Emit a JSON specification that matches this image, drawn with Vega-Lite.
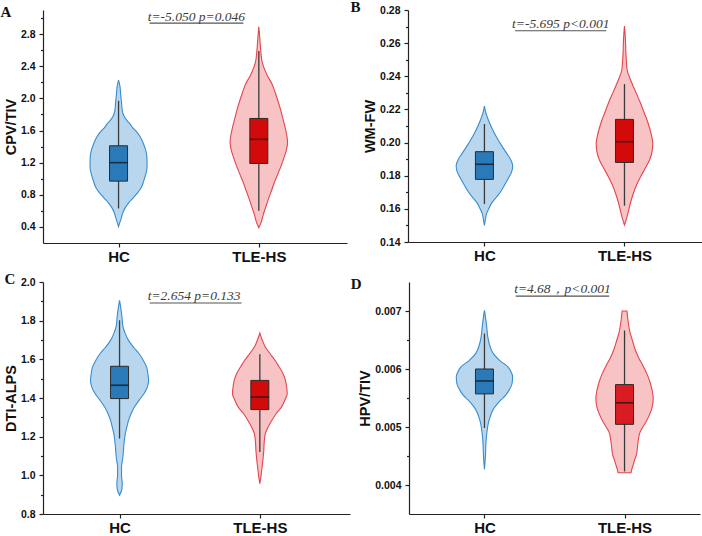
{
  "$schema": "https://vega.github.io/schema/vega-lite/v6.json",
  "padding": {"left": 0, "top": 0, "right": 0, "bottom": 0},
  "config": {
    "view": {"stroke": null},
    "axis": {
      "grid": false,
      "domainColor": "#222222",
      "domainWidth": 1.2,
      "tickColor": "#222222",
      "tickWidth": 1.2,
      "tickSize": 4,
      "labelFont": "Liberation Sans",
      "labelFontWeight": "bold",
      "labelFontSize": 10.5,
      "labelColor": "#111111",
      "labelPadding": 4,
      "labelOverlap": false,
      "titleFont": "Liberation Sans",
      "titleFontWeight": "bold",
      "titleFontSize": 14.5,
      "titleColor": "#111111",
      "titlePadding": 2
    },
    "title": {
      "font": "Liberation Serif",
      "fontWeight": "bold",
      "fontSize": 15,
      "color": "#111111",
      "anchor": "start",
      "frame": "bounds",
      "offset": -10,
      "dx": -3
    }
  },
  "datasets": {
    "noteA": [{"label": "t=-5.050 p=0.046"}],
    "noteB": [{"label": "t=-5.695 p<0.001"}],
    "noteC": [{"label": "t=2.654 p=0.133"}],
    "noteD": [{"label": "t=4.68，p<0.001"}],
    "violinA": [
      {"group": "HC", "v": 2.227, "lo": 1, "hi": 1},
      {"group": "HC", "v": 2.15, "lo": 0.990, "hi": 1.010},
      {"group": "HC", "v": 2.05, "lo": 0.985, "hi": 1.015},
      {"group": "HC", "v": 1.95, "lo": 0.979, "hi": 1.021},
      {"group": "HC", "v": 1.85, "lo": 0.974, "hi": 1.026},
      {"group": "HC", "v": 1.78, "lo": 0.962, "hi": 1.038},
      {"group": "HC", "v": 1.72, "lo": 0.938, "hi": 1.062},
      {"group": "HC", "v": 1.68, "lo": 0.917, "hi": 1.083},
      {"group": "HC", "v": 1.637, "lo": 0.900, "hi": 1.100},
      {"group": "HC", "v": 1.58, "lo": 0.869, "hi": 1.131},
      {"group": "HC", "v": 1.52, "lo": 0.845, "hi": 1.155},
      {"group": "HC", "v": 1.43, "lo": 0.821, "hi": 1.179},
      {"group": "HC", "v": 1.33, "lo": 0.803, "hi": 1.197},
      {"group": "HC", "v": 1.23, "lo": 0.797, "hi": 1.203},
      {"group": "HC", "v": 1.14, "lo": 0.797, "hi": 1.203},
      {"group": "HC", "v": 1.05, "lo": 0.807, "hi": 1.193},
      {"group": "HC", "v": 0.97, "lo": 0.821, "hi": 1.179},
      {"group": "HC", "v": 0.89, "lo": 0.838, "hi": 1.162},
      {"group": "HC", "v": 0.82, "lo": 0.866, "hi": 1.134},
      {"group": "HC", "v": 0.76, "lo": 0.897, "hi": 1.103},
      {"group": "HC", "v": 0.70, "lo": 0.928, "hi": 1.072},
      {"group": "HC", "v": 0.64, "lo": 0.952, "hi": 1.048},
      {"group": "HC", "v": 0.58, "lo": 0.969, "hi": 1.031},
      {"group": "HC", "v": 0.52, "lo": 0.979, "hi": 1.021},
      {"group": "HC", "v": 0.46, "lo": 0.990, "hi": 1.010},
      {"group": "HC", "v": 0.404, "lo": 1, "hi": 1},
      {"group": "TLE-HS", "v": 2.89, "lo": 2, "hi": 2},
      {"group": "TLE-HS", "v": 2.75, "lo": 1.993, "hi": 2.007},
      {"group": "TLE-HS", "v": 2.59, "lo": 1.986, "hi": 2.014},
      {"group": "TLE-HS", "v": 2.45, "lo": 1.976, "hi": 2.024},
      {"group": "TLE-HS", "v": 2.38, "lo": 1.963, "hi": 2.037},
      {"group": "TLE-HS", "v": 2.28, "lo": 1.938, "hi": 2.062},
      {"group": "TLE-HS", "v": 2.18, "lo": 1.906, "hi": 2.094},
      {"group": "TLE-HS", "v": 2.07, "lo": 1.883, "hi": 2.117},
      {"group": "TLE-HS", "v": 1.97, "lo": 1.864, "hi": 2.136},
      {"group": "TLE-HS", "v": 1.86, "lo": 1.845, "hi": 2.155},
      {"group": "TLE-HS", "v": 1.76, "lo": 1.830, "hi": 2.170},
      {"group": "TLE-HS", "v": 1.62, "lo": 1.810, "hi": 2.190},
      {"group": "TLE-HS", "v": 1.51, "lo": 1.798, "hi": 2.202},
      {"group": "TLE-HS", "v": 1.45, "lo": 1.795, "hi": 2.205},
      {"group": "TLE-HS", "v": 1.36, "lo": 1.803, "hi": 2.197},
      {"group": "TLE-HS", "v": 1.26, "lo": 1.821, "hi": 2.179},
      {"group": "TLE-HS", "v": 1.16, "lo": 1.841, "hi": 2.159},
      {"group": "TLE-HS", "v": 1.06, "lo": 1.864, "hi": 2.136},
      {"group": "TLE-HS", "v": 0.95, "lo": 1.890, "hi": 2.110},
      {"group": "TLE-HS", "v": 0.85, "lo": 1.910, "hi": 2.090},
      {"group": "TLE-HS", "v": 0.75, "lo": 1.931, "hi": 2.069},
      {"group": "TLE-HS", "v": 0.64, "lo": 1.952, "hi": 2.048},
      {"group": "TLE-HS", "v": 0.55, "lo": 1.969, "hi": 2.031},
      {"group": "TLE-HS", "v": 0.47, "lo": 1.981, "hi": 2.019},
      {"group": "TLE-HS", "v": 0.39, "lo": 2, "hi": 2}
    ],
    "boxA": [
      {"group": "HC", "g": 1, "lower": 0.63, "q1": 0.97, "median": 1.20, "q3": 1.41, "upper": 1.97},
      {"group": "TLE-HS", "g": 2, "lower": 0.60, "q1": 1.19, "median": 1.49, "q3": 1.75, "upper": 2.59}
    ],
    "violinB": [
      {"group": "HC", "v": 0.222, "lo": 1, "hi": 1},
      {"group": "HC", "v": 0.218, "lo": 0.990, "hi": 1.010},
      {"group": "HC", "v": 0.2136, "lo": 0.972, "hi": 1.028},
      {"group": "HC", "v": 0.209, "lo": 0.948, "hi": 1.052},
      {"group": "HC", "v": 0.2035, "lo": 0.915, "hi": 1.085},
      {"group": "HC", "v": 0.198, "lo": 0.876, "hi": 1.124},
      {"group": "HC", "v": 0.1935, "lo": 0.841, "hi": 1.159},
      {"group": "HC", "v": 0.190, "lo": 0.814, "hi": 1.186},
      {"group": "HC", "v": 0.186, "lo": 0.798, "hi": 1.202},
      {"group": "HC", "v": 0.182, "lo": 0.807, "hi": 1.193},
      {"group": "HC", "v": 0.1794, "lo": 0.823, "hi": 1.177},
      {"group": "HC", "v": 0.175, "lo": 0.852, "hi": 1.148},
      {"group": "HC", "v": 0.1694, "lo": 0.892, "hi": 1.108},
      {"group": "HC", "v": 0.1633, "lo": 0.950, "hi": 1.050},
      {"group": "HC", "v": 0.160, "lo": 0.969, "hi": 1.031},
      {"group": "HC", "v": 0.1573, "lo": 0.984, "hi": 1.016},
      {"group": "HC", "v": 0.154, "lo": 0.992, "hi": 1.008},
      {"group": "HC", "v": 0.150, "lo": 1, "hi": 1},
      {"group": "TLE-HS", "v": 0.2703, "lo": 2, "hi": 2},
      {"group": "TLE-HS", "v": 0.2619, "lo": 1.993, "hi": 2.007},
      {"group": "TLE-HS", "v": 0.2539, "lo": 1.990, "hi": 2.010},
      {"group": "TLE-HS", "v": 0.2486, "lo": 1.986, "hi": 2.014},
      {"group": "TLE-HS", "v": 0.2438, "lo": 1.981, "hi": 2.019},
      {"group": "TLE-HS", "v": 0.239, "lo": 1.962, "hi": 2.038},
      {"group": "TLE-HS", "v": 0.2337, "lo": 1.936, "hi": 2.064},
      {"group": "TLE-HS", "v": 0.2287, "lo": 1.910, "hi": 2.090},
      {"group": "TLE-HS", "v": 0.2237, "lo": 1.885, "hi": 2.115},
      {"group": "TLE-HS", "v": 0.2186, "lo": 1.862, "hi": 2.138},
      {"group": "TLE-HS", "v": 0.2136, "lo": 1.839, "hi": 2.161},
      {"group": "TLE-HS", "v": 0.2088, "lo": 1.821, "hi": 2.179},
      {"group": "TLE-HS", "v": 0.2035, "lo": 1.805, "hi": 2.195},
      {"group": "TLE-HS", "v": 0.1996, "lo": 1.798, "hi": 2.202},
      {"group": "TLE-HS", "v": 0.1945, "lo": 1.803, "hi": 2.197},
      {"group": "TLE-HS", "v": 0.1895, "lo": 1.821, "hi": 2.179},
      {"group": "TLE-HS", "v": 0.1845, "lo": 1.852, "hi": 2.148},
      {"group": "TLE-HS", "v": 0.1794, "lo": 1.885, "hi": 2.115},
      {"group": "TLE-HS", "v": 0.1744, "lo": 1.914, "hi": 2.086},
      {"group": "TLE-HS", "v": 0.1694, "lo": 1.936, "hi": 2.064},
      {"group": "TLE-HS", "v": 0.1643, "lo": 1.955, "hi": 2.045},
      {"group": "TLE-HS", "v": 0.1593, "lo": 1.970, "hi": 2.030},
      {"group": "TLE-HS", "v": 0.1533, "lo": 1.988, "hi": 2.012},
      {"group": "TLE-HS", "v": 0.1502, "lo": 2, "hi": 2}
    ],
    "boxB": [
      {"group": "HC", "g": 1, "lower": 0.1629, "q1": 0.1778, "median": 0.1869, "q3": 0.1945, "upper": 0.2112},
      {"group": "TLE-HS", "g": 2, "lower": 0.1619, "q1": 0.188, "median": 0.2005, "q3": 0.214, "upper": 0.2353}
    ],
    "violinC": [
      {"group": "HC", "v": 1.905, "lo": 1, "hi": 1},
      {"group": "HC", "v": 1.86, "lo": 0.990, "hi": 1.010},
      {"group": "HC", "v": 1.82, "lo": 0.983, "hi": 1.017},
      {"group": "HC", "v": 1.77, "lo": 0.976, "hi": 1.024},
      {"group": "HC", "v": 1.733, "lo": 0.959, "hi": 1.041},
      {"group": "HC", "v": 1.698, "lo": 0.936, "hi": 1.064},
      {"group": "HC", "v": 1.66, "lo": 0.897, "hi": 1.103},
      {"group": "HC", "v": 1.629, "lo": 0.860, "hi": 1.140},
      {"group": "HC", "v": 1.595, "lo": 0.831, "hi": 1.169},
      {"group": "HC", "v": 1.56, "lo": 0.807, "hi": 1.193},
      {"group": "HC", "v": 1.52, "lo": 0.797, "hi": 1.203},
      {"group": "HC", "v": 1.491, "lo": 0.793, "hi": 1.207},
      {"group": "HC", "v": 1.455, "lo": 0.803, "hi": 1.197},
      {"group": "HC", "v": 1.422, "lo": 0.826, "hi": 1.174},
      {"group": "HC", "v": 1.39, "lo": 0.859, "hi": 1.141},
      {"group": "HC", "v": 1.353, "lo": 0.894, "hi": 1.106},
      {"group": "HC", "v": 1.32, "lo": 0.917, "hi": 1.083},
      {"group": "HC", "v": 1.284, "lo": 0.936, "hi": 1.064},
      {"group": "HC", "v": 1.25, "lo": 0.948, "hi": 1.052},
      {"group": "HC", "v": 1.216, "lo": 0.959, "hi": 1.041},
      {"group": "HC", "v": 1.16, "lo": 0.969, "hi": 1.031},
      {"group": "HC", "v": 1.112, "lo": 0.974, "hi": 1.026},
      {"group": "HC", "v": 1.08, "lo": 0.979, "hi": 1.021},
      {"group": "HC", "v": 1.043, "lo": 0.986, "hi": 1.014},
      {"group": "HC", "v": 1.00, "lo": 0.986, "hi": 1.014},
      {"group": "HC", "v": 0.96, "lo": 0.981, "hi": 1.019},
      {"group": "HC", "v": 0.93, "lo": 0.983, "hi": 1.017},
      {"group": "HC", "v": 0.897, "lo": 1, "hi": 1},
      {"group": "TLE-HS", "v": 1.736, "lo": 2, "hi": 2},
      {"group": "TLE-HS", "v": 1.70, "lo": 1.983, "hi": 2.017},
      {"group": "TLE-HS", "v": 1.664, "lo": 1.961, "hi": 2.039},
      {"group": "TLE-HS", "v": 1.63, "lo": 1.928, "hi": 2.072},
      {"group": "TLE-HS", "v": 1.595, "lo": 1.892, "hi": 2.108},
      {"group": "TLE-HS", "v": 1.56, "lo": 1.862, "hi": 2.138},
      {"group": "TLE-HS", "v": 1.526, "lo": 1.834, "hi": 2.166},
      {"group": "TLE-HS", "v": 1.49, "lo": 1.817, "hi": 2.183},
      {"group": "TLE-HS", "v": 1.457, "lo": 1.809, "hi": 2.191},
      {"group": "TLE-HS", "v": 1.422, "lo": 1.805, "hi": 2.195},
      {"group": "TLE-HS", "v": 1.39, "lo": 1.821, "hi": 2.179},
      {"group": "TLE-HS", "v": 1.353, "lo": 1.846, "hi": 2.154},
      {"group": "TLE-HS", "v": 1.32, "lo": 1.883, "hi": 2.117},
      {"group": "TLE-HS", "v": 1.284, "lo": 1.915, "hi": 2.085},
      {"group": "TLE-HS", "v": 1.25, "lo": 1.941, "hi": 2.059},
      {"group": "TLE-HS", "v": 1.216, "lo": 1.961, "hi": 2.039},
      {"group": "TLE-HS", "v": 1.17, "lo": 1.969, "hi": 2.031},
      {"group": "TLE-HS", "v": 1.129, "lo": 1.972, "hi": 2.028},
      {"group": "TLE-HS", "v": 1.08, "lo": 1.978, "hi": 2.022},
      {"group": "TLE-HS", "v": 1.043, "lo": 1.984, "hi": 2.016},
      {"group": "TLE-HS", "v": 1.00, "lo": 1.991, "hi": 2.009},
      {"group": "TLE-HS", "v": 0.957, "lo": 2, "hi": 2}
    ],
    "boxC": [
      {"group": "HC", "g": 1, "lower": 1.19, "q1": 1.397, "median": 1.466, "q3": 1.564, "upper": 1.802},
      {"group": "TLE-HS", "g": 2, "lower": 1.121, "q1": 1.340, "median": 1.405, "q3": 1.491, "upper": 1.626}
    ],
    "violinD": [
      {"group": "HC", "v": 0.00701, "lo": 1, "hi": 1},
      {"group": "HC", "v": 0.0069, "lo": 0.993, "hi": 1.007},
      {"group": "HC", "v": 0.00673, "lo": 0.984, "hi": 1.016},
      {"group": "HC", "v": 0.00655, "lo": 0.976, "hi": 1.024},
      {"group": "HC", "v": 0.00644, "lo": 0.966, "hi": 1.034},
      {"group": "HC", "v": 0.00627, "lo": 0.938, "hi": 1.062},
      {"group": "HC", "v": 0.00615, "lo": 0.892, "hi": 1.108},
      {"group": "HC", "v": 0.00604, "lo": 0.834, "hi": 1.166},
      {"group": "HC", "v": 0.00595, "lo": 0.810, "hi": 1.190},
      {"group": "HC", "v": 0.00587, "lo": 0.799, "hi": 1.201},
      {"group": "HC", "v": 0.00575, "lo": 0.803, "hi": 1.197},
      {"group": "HC", "v": 0.00564, "lo": 0.823, "hi": 1.177},
      {"group": "HC", "v": 0.00555, "lo": 0.848, "hi": 1.152},
      {"group": "HC", "v": 0.00547, "lo": 0.881, "hi": 1.119},
      {"group": "HC", "v": 0.00538, "lo": 0.914, "hi": 1.086},
      {"group": "HC", "v": 0.0053, "lo": 0.938, "hi": 1.062},
      {"group": "HC", "v": 0.00518, "lo": 0.959, "hi": 1.041},
      {"group": "HC", "v": 0.00507, "lo": 0.972, "hi": 1.028},
      {"group": "HC", "v": 0.0049, "lo": 0.983, "hi": 1.017},
      {"group": "HC", "v": 0.00478, "lo": 0.988, "hi": 1.012},
      {"group": "HC", "v": 0.0045, "lo": 0.993, "hi": 1.007},
      {"group": "HC", "v": 0.00427, "lo": 1, "hi": 1},
      {"group": "TLE-HS", "v": 0.0070, "lo": 1.983, "hi": 2.017},
      {"group": "TLE-HS", "v": 0.00685, "lo": 1.976, "hi": 2.024},
      {"group": "TLE-HS", "v": 0.00663, "lo": 1.961, "hi": 2.039},
      {"group": "TLE-HS", "v": 0.0065, "lo": 1.945, "hi": 2.055},
      {"group": "TLE-HS", "v": 0.00635, "lo": 1.926, "hi": 2.074},
      {"group": "TLE-HS", "v": 0.0062, "lo": 1.900, "hi": 2.100},
      {"group": "TLE-HS", "v": 0.00606, "lo": 1.869, "hi": 2.131},
      {"group": "TLE-HS", "v": 0.00592, "lo": 1.841, "hi": 2.159},
      {"group": "TLE-HS", "v": 0.00578, "lo": 1.819, "hi": 2.181},
      {"group": "TLE-HS", "v": 0.00563, "lo": 1.803, "hi": 2.197},
      {"group": "TLE-HS", "v": 0.00549, "lo": 1.795, "hi": 2.205},
      {"group": "TLE-HS", "v": 0.00532, "lo": 1.805, "hi": 2.195},
      {"group": "TLE-HS", "v": 0.0052, "lo": 1.824, "hi": 2.176},
      {"group": "TLE-HS", "v": 0.00509, "lo": 1.846, "hi": 2.154},
      {"group": "TLE-HS", "v": 0.005, "lo": 1.869, "hi": 2.131},
      {"group": "TLE-HS", "v": 0.00492, "lo": 1.888, "hi": 2.112},
      {"group": "TLE-HS", "v": 0.00475, "lo": 1.903, "hi": 2.097},
      {"group": "TLE-HS", "v": 0.0046, "lo": 1.910, "hi": 2.090},
      {"group": "TLE-HS", "v": 0.00452, "lo": 1.915, "hi": 2.085},
      {"group": "TLE-HS", "v": 0.00443, "lo": 1.928, "hi": 2.072},
      {"group": "TLE-HS", "v": 0.00435, "lo": 1.938, "hi": 2.062},
      {"group": "TLE-HS", "v": 0.00427, "lo": 1.948, "hi": 2.052},
      {"group": "TLE-HS", "v": 0.00421, "lo": 1.954, "hi": 2.046}
    ],
    "boxD": [
      {"group": "HC", "g": 1, "lower": 0.004983, "q1": 0.005571, "median": 0.005794, "q3": 0.0060, "upper": 0.006611},
      {"group": "TLE-HS", "g": 2, "lower": 0.004234, "q1": 0.005046, "median": 0.005417, "q3": 0.005731, "upper": 0.006663}
    ]
  },
  "vconcat": [
    {
      "spacing": 3,
      "hconcat": [
        {
          "title": {"text": "A"},
          "width": 304,
          "height": 233,
          "layer": [
            {
              "data": {"name": "violinA"},
              "mark": {"type": "area", "orient": "horizontal", "interpolate": "monotone", "strokeWidth": 1.1},
              "encoding": {
                "y": {"field": "v", "type": "quantitative", "scale": {"domain": [0.2, 3.1], "nice": false, "zero": false},
                  "axis": {"title": "CPV/TIV", "format": ".1f", "labelOverlap": false, "tickCount": 100,
                    "values": [0.4, 0.6, 0.8, 1.0, 1.2, 1.4, 1.6, 1.8, 2.0, 2.2, 2.4, 2.6, 2.8, 3.0],
                    "labelExpr": "abs(datum.value / 0.4 - round(datum.value / 0.4)) < 0.01 ? datum.label : ''",
                    "tickSize": {"condition": {"test": "abs(datum.value / 0.4 - round(datum.value / 0.4)) > 0.01", "value": 2.5}, "value": 4}}},
                "x": {"field": "lo", "type": "quantitative", "scale": {"domain": [0.497, 2.593], "nice": false, "zero": false},
                  "axis": {"title": null, "values": [1, 2], "labelExpr": "datum.value == 1 ? 'HC' : 'TLE-HS'", "labelFontSize": 15, "labelPadding": 2, "labelFlush": false}},
                "x2": {"field": "hi"},
                "fill": {"field": "group", "type": "nominal", "scale": {"domain": ["HC", "TLE-HS"], "range": ["#b8d7ef", "#f8c3c5"]}, "legend": null},
                "stroke": {"field": "group", "type": "nominal", "scale": {"domain": ["HC", "TLE-HS"], "range": ["#3a8ccb", "#e2464d"]}, "legend": null}
              }
            },
            {
              "data": {"name": "boxA"},
              "mark": {"type": "rule", "color": "#3a3a3a", "strokeWidth": 1.3},
              "encoding": {"x": {"field": "g", "type": "quantitative"}, "y": {"field": "lower", "type": "quantitative"}, "y2": {"field": "upper"}}
            },
            {
              "data": {"name": "boxA"},
              "mark": {"type": "bar", "width": 18, "stroke": "#2b2b2b", "strokeWidth": 1},
              "encoding": {"x": {"field": "g", "type": "quantitative"}, "y": {"field": "q1", "type": "quantitative"}, "y2": {"field": "q3"},
                "fill": {"field": "group", "type": "nominal", "scale": {"domain": ["HC", "TLE-HS"], "range": ["#2a7ab9", "#d20a0a"]}, "legend": null}}
            },
            {
              "data": {"name": "boxA"},
              "mark": {"type": "tick", "orient": "horizontal", "size": 18, "thickness": 1.6, "color": "#111111"},
              "encoding": {"x": {"field": "g", "type": "quantitative"}, "y": {"field": "median", "type": "quantitative"}}
            },
            {
              "data": {"name": "noteA"},
              "mark": {"type": "text", "font": "Liberation Serif", "fontStyle": "italic", "fontSize": 13.5, "color": "#3c3c3c", "align": "center", "baseline": "alphabetic"},
              "encoding": {"x": {"datum": 1.555, "type": "quantitative"}, "y": {"datum": 2.966, "type": "quantitative"}, "text": {"field": "label"}}
            },
            {
              "data": {"name": "noteA"},
              "mark": {"type": "rule", "color": "#555555", "strokeWidth": 1.1},
              "encoding": {"x": {"datum": 1.221, "type": "quantitative"}, "x2": {"datum": 1.89}, "y": {"datum": 2.937, "type": "quantitative"}}
            }
          ],
          "resolve": {"scale": {"fill": "independent"}}
        },
        {
          "title": {"text": "B", "dx": -12},
          "width": 295,
          "height": 232,
          "layer": [
            {
              "data": {"name": "violinB"},
              "mark": {"type": "area", "orient": "horizontal", "interpolate": "monotone", "strokeWidth": 1.1},
              "encoding": {
                "y": {"field": "v", "type": "quantitative", "scale": {"domain": [0.14, 0.28], "nice": false, "zero": false},
                  "axis": {"title": "WM-FW", "format": ".2f", "labelOverlap": false, "tickCount": 100,
                    "values": [0.14, 0.15, 0.16, 0.17, 0.18, 0.19, 0.20, 0.21, 0.22, 0.23, 0.24, 0.25, 0.26, 0.27, 0.28],
                    "labelExpr": "abs(datum.value / 0.02 - round(datum.value / 0.02)) < 0.01 ? datum.label : ''",
                    "tickSize": {"condition": {"test": "abs(datum.value / 0.02 - round(datum.value / 0.02)) > 0.01", "value": 2.5}, "value": 4}}},
                "x": {"field": "lo", "type": "quantitative", "scale": {"domain": [0.49, 2.525], "nice": false, "zero": false},
                  "axis": {"title": null, "values": [1, 2], "labelExpr": "datum.value == 1 ? 'HC' : 'TLE-HS'", "labelFontSize": 15, "labelPadding": 2, "labelFlush": false}},
                "x2": {"field": "hi"},
                "fill": {"field": "group", "type": "nominal", "scale": {"domain": ["HC", "TLE-HS"], "range": ["#b8d7ef", "#f8c3c5"]}, "legend": null},
                "stroke": {"field": "group", "type": "nominal", "scale": {"domain": ["HC", "TLE-HS"], "range": ["#3a8ccb", "#e2464d"]}, "legend": null}
              }
            },
            {
              "data": {"name": "boxB"},
              "mark": {"type": "rule", "color": "#3a3a3a", "strokeWidth": 1.3},
              "encoding": {"x": {"field": "g", "type": "quantitative"}, "y": {"field": "lower", "type": "quantitative"}, "y2": {"field": "upper"}}
            },
            {
              "data": {"name": "boxB"},
              "mark": {"type": "bar", "width": 18, "stroke": "#2b2b2b", "strokeWidth": 1},
              "encoding": {"x": {"field": "g", "type": "quantitative"}, "y": {"field": "q1", "type": "quantitative"}, "y2": {"field": "q3"},
                "fill": {"field": "group", "type": "nominal", "scale": {"domain": ["HC", "TLE-HS"], "range": ["#2a7ab9", "#d20a0a"]}, "legend": null}}
            },
            {
              "data": {"name": "boxB"},
              "mark": {"type": "tick", "orient": "horizontal", "size": 18, "thickness": 1.6, "color": "#111111"},
              "encoding": {"x": {"field": "g", "type": "quantitative"}, "y": {"field": "median", "type": "quantitative"}}
            },
            {
              "data": {"name": "noteB"},
              "mark": {"type": "text", "font": "Liberation Serif", "fontStyle": "italic", "fontSize": 13.5, "color": "#3c3c3c", "align": "center", "baseline": "alphabetic"},
              "encoding": {"x": {"datum": 1.545, "type": "quantitative"}, "y": {"datum": 0.2693, "type": "quantitative"}, "text": {"field": "label"}}
            },
            {
              "data": {"name": "noteB"},
              "mark": {"type": "rule", "color": "#555555", "strokeWidth": 1.1},
              "encoding": {"x": {"datum": 1.219, "type": "quantitative"}, "x2": {"datum": 1.87}, "y": {"datum": 0.2675, "type": "quantitative"}}
            }
          ],
          "resolve": {"scale": {"fill": "independent"}}
        }
      ]
    },
    {
      "spacing": 0,
      "hconcat": [
        {
          "title": {"text": "C", "dx": 1},
          "width": 307,
          "height": 232,
          "layer": [
            {
              "data": {"name": "violinC"},
              "mark": {"type": "area", "orient": "horizontal", "interpolate": "monotone", "strokeWidth": 1.1},
              "encoding": {
                "y": {"field": "v", "type": "quantitative", "scale": {"domain": [0.8, 2.0], "nice": false, "zero": false},
                  "axis": {"title": "DTI-ALPS", "format": ".1f", "labelOverlap": false, "tickCount": 100,
                    "values": [0.8, 0.9, 1.0, 1.1, 1.2, 1.3, 1.4, 1.5, 1.6, 1.7, 1.8, 1.9, 2.0],
                    "labelExpr": "abs(datum.value / 0.2 - round(datum.value / 0.2)) < 0.01 ? datum.label : ''",
                    "tickSize": {"condition": {"test": "abs(datum.value / 0.2 - round(datum.value / 0.2)) > 0.01", "value": 2.5}, "value": 4}}},
                "x": {"field": "lo", "type": "quantitative", "scale": {"domain": [0.49, 2.607], "nice": false, "zero": false},
                  "axis": {"title": null, "values": [1, 2], "labelExpr": "datum.value == 1 ? 'HC' : 'TLE-HS'", "labelFontSize": 15, "labelPadding": 2, "labelFlush": false}},
                "x2": {"field": "hi"},
                "fill": {"field": "group", "type": "nominal", "scale": {"domain": ["HC", "TLE-HS"], "range": ["#b8d7ef", "#f8c3c5"]}, "legend": null},
                "stroke": {"field": "group", "type": "nominal", "scale": {"domain": ["HC", "TLE-HS"], "range": ["#3a8ccb", "#e2464d"]}, "legend": null}
              }
            },
            {
              "data": {"name": "boxC"},
              "mark": {"type": "rule", "color": "#3a3a3a", "strokeWidth": 1.3},
              "encoding": {"x": {"field": "g", "type": "quantitative"}, "y": {"field": "lower", "type": "quantitative"}, "y2": {"field": "upper"}}
            },
            {
              "data": {"name": "boxC"},
              "mark": {"type": "bar", "width": 18, "stroke": "#2b2b2b", "strokeWidth": 1},
              "encoding": {"x": {"field": "g", "type": "quantitative"}, "y": {"field": "q1", "type": "quantitative"}, "y2": {"field": "q3"},
                "fill": {"field": "group", "type": "nominal", "scale": {"domain": ["HC", "TLE-HS"], "range": ["#2a7ab9", "#d20a0a"]}, "legend": null}}
            },
            {
              "data": {"name": "boxC"},
              "mark": {"type": "tick", "orient": "horizontal", "size": 18, "thickness": 1.6, "color": "#111111"},
              "encoding": {"x": {"field": "g", "type": "quantitative"}, "y": {"field": "median", "type": "quantitative"}}
            },
            {
              "data": {"name": "noteC"},
              "mark": {"type": "text", "font": "Liberation Serif", "fontStyle": "italic", "fontSize": 13.5, "color": "#3c3c3c", "align": "center", "baseline": "alphabetic"},
              "encoding": {"x": {"datum": 1.532, "type": "quantitative"}, "y": {"datum": 1.905, "type": "quantitative"}, "text": {"field": "label"}}
            },
            {
              "data": {"name": "noteC"},
              "mark": {"type": "rule", "color": "#555555", "strokeWidth": 1.1},
              "encoding": {"x": {"datum": 1.215, "type": "quantitative"}, "x2": {"datum": 1.87}, "y": {"datum": 1.891, "type": "quantitative"}}
            }
          ],
          "resolve": {"scale": {"fill": "independent"}}
        },
        {
          "title": {"text": "D", "dx": -7},
          "width": 291,
          "height": 232,
          "layer": [
            {
              "data": {"name": "violinD"},
              "mark": {"type": "area", "orient": "horizontal", "interpolate": "monotone", "strokeWidth": 1.1},
              "encoding": {
                "y": {"field": "v", "type": "quantitative", "scale": {"domain": [0.0035, 0.0075], "nice": false, "zero": false},
                  "axis": {"title": "HPV/TIV", "format": ".3f", "labelOverlap": false, "tickCount": 100,
                    "values": [0.004, 0.0045, 0.005, 0.0055, 0.006, 0.0065, 0.007],
                    "labelExpr": "abs(datum.value / 0.001 - round(datum.value / 0.001)) < 0.01 ? datum.label : ''",
                    "tickSize": {"condition": {"test": "abs(datum.value / 0.001 - round(datum.value / 0.001)) > 0.01", "value": 2.5}, "value": 4}}},
                "x": {"field": "lo", "type": "quantitative", "scale": {"domain": [0.497, 2.503], "nice": false, "zero": false},
                  "axis": {"title": null, "values": [1, 2], "labelExpr": "datum.value == 1 ? 'HC' : 'TLE-HS'", "labelFontSize": 15, "labelPadding": 2, "labelFlush": false}},
                "x2": {"field": "hi"},
                "fill": {"field": "group", "type": "nominal", "scale": {"domain": ["HC", "TLE-HS"], "range": ["#b8d7ef", "#f8c3c5"]}, "legend": null},
                "stroke": {"field": "group", "type": "nominal", "scale": {"domain": ["HC", "TLE-HS"], "range": ["#3a8ccb", "#e2464d"]}, "legend": null}
              }
            },
            {
              "data": {"name": "boxD"},
              "mark": {"type": "rule", "color": "#3a3a3a", "strokeWidth": 1.3},
              "encoding": {"x": {"field": "g", "type": "quantitative"}, "y": {"field": "lower", "type": "quantitative"}, "y2": {"field": "upper"}}
            },
            {
              "data": {"name": "boxD"},
              "mark": {"type": "bar", "width": 18, "stroke": "#2b2b2b", "strokeWidth": 1},
              "encoding": {"x": {"field": "g", "type": "quantitative"}, "y": {"field": "q1", "type": "quantitative"}, "y2": {"field": "q3"},
                "fill": {"field": "group", "type": "nominal", "scale": {"domain": ["HC", "TLE-HS"], "range": ["#2a7ab9", "#d91c22"]}, "legend": null}}
            },
            {
              "data": {"name": "boxD"},
              "mark": {"type": "tick", "orient": "horizontal", "size": 18, "thickness": 1.6, "color": "#111111"},
              "encoding": {"x": {"field": "g", "type": "quantitative"}, "y": {"field": "median", "type": "quantitative"}}
            },
            {
              "data": {"name": "noteD"},
              "mark": {"type": "text", "font": "Liberation Serif", "fontStyle": "italic", "fontSize": 13.5, "color": "#3c3c3c", "align": "center", "baseline": "alphabetic"},
              "encoding": {"x": {"datum": 1.557, "type": "quantitative"}, "y": {"datum": 0.007309, "type": "quantitative"}, "text": {"field": "label"}}
            },
            {
              "data": {"name": "noteD"},
              "mark": {"type": "rule", "color": "#555555", "strokeWidth": 1.1},
              "encoding": {"x": {"datum": 1.223, "type": "quantitative"}, "x2": {"datum": 1.89}, "y": {"datum": 0.007257, "type": "quantitative"}}
            }
          ],
          "resolve": {"scale": {"fill": "independent"}}
        }
      ]
    }
  ],
  "spacing": 8
}
